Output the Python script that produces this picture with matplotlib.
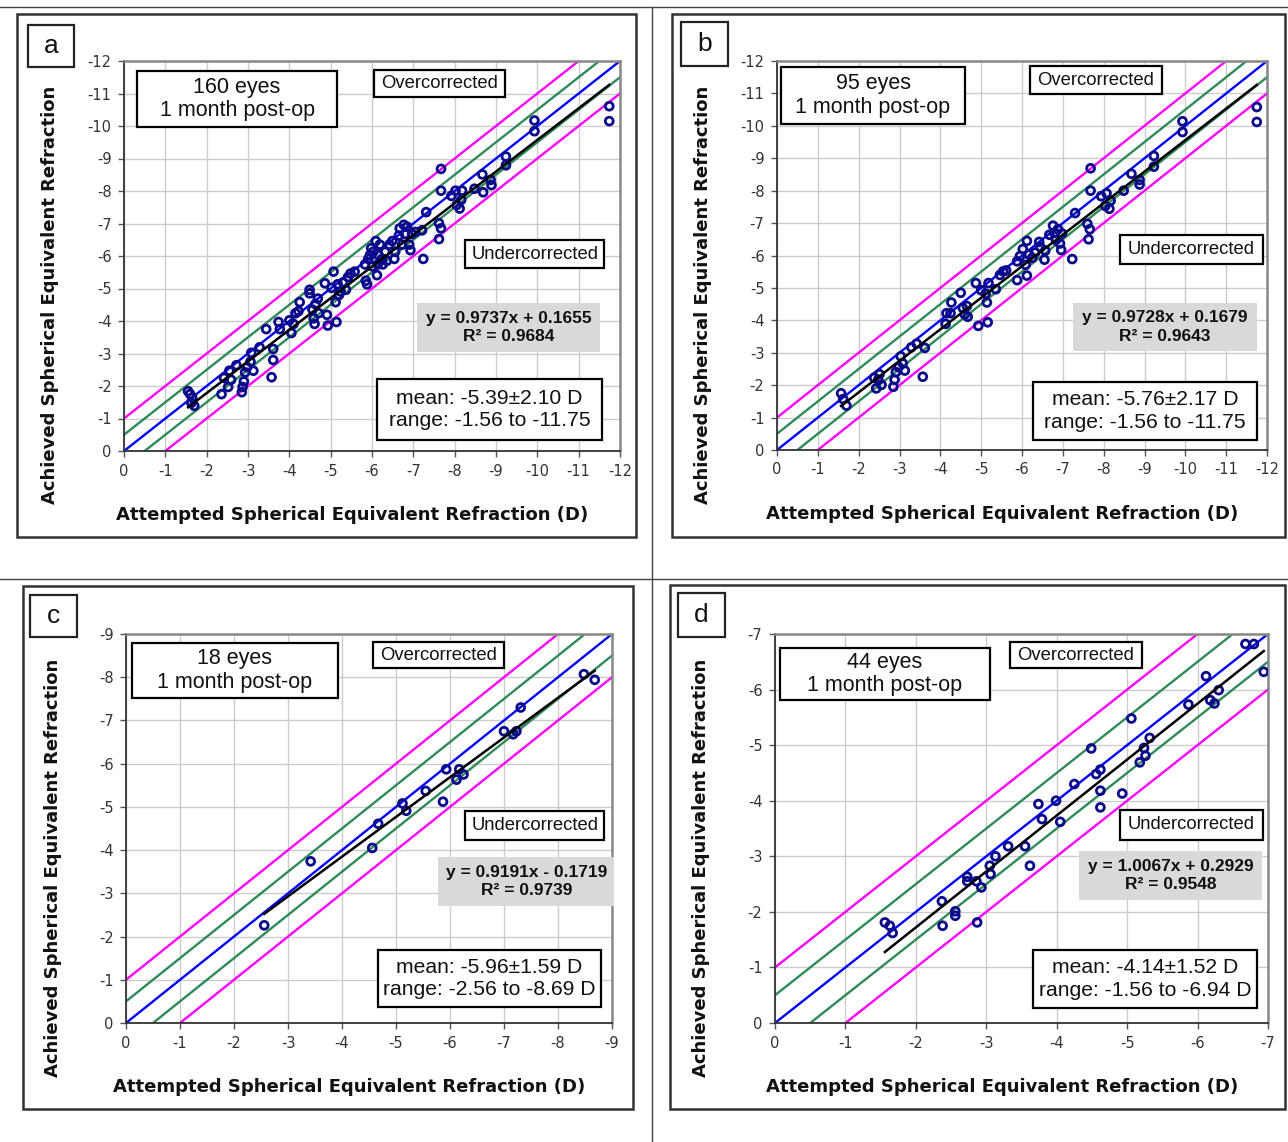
#!/usr/bin/env python3
"""Attempted vs achieved spherical equivalent refraction, four cohorts (a-d)."""

import matplotlib.pyplot as plt
from matplotlib.lines import Line2D
from matplotlib.patches import Rectangle

plt.rcParams["axes.unicode_minus"] = False

# ---- panel a: 160 eyes ----
a_attempted = [
    -1.55, -1.60, -1.65, -1.70, -1.63,
    -2.36, -2.42, -2.52, -2.55, -2.59, -2.72,
    -2.85, -2.87, -2.90, -2.93, -2.98, -3.06, -3.13, -3.08,
    -3.28, -3.44, -3.57, -3.61, -3.61, -3.74, -3.77,
    -4.00, -4.05, -4.10, -4.15, -4.25, -4.22,
    -4.49, -4.49, -4.56, -4.59, -4.61, -4.63, -4.69, -4.71,
    -4.86, -4.91, -4.93, -5.07, -5.02, -5.12, -5.14, -5.17, -5.20, -5.24,
    -5.30, -5.37, -5.42, -5.48, -5.58,
    -5.83, -5.85, -5.88, -5.91, -5.95, -5.98, -6.01, -6.03, -6.09, -6.12,
    -6.14, -6.16, -6.19, -6.24, -6.26, -6.32, -6.36, -6.42, -6.49, -6.54, -6.56,
    -6.65, -6.67, -6.73, -6.77, -6.80, -6.85, -6.90, -6.93, -6.97, -7.05,
    -7.21, -7.24, -7.31,
    -7.62, -7.62, -7.67, -7.67, -7.67,
    -7.92, -8.02, -8.05, -8.12, -8.16, -8.18,
    -8.48, -8.67, -8.69, -8.89, -8.87,
    -9.24, -9.24, -9.93, -9.93, -11.74, -11.74,
]
a_achieved = [
    -1.84, -1.75, -1.64, -1.39, -1.48,
    -1.75, -2.25, -1.97, -2.47, -2.19, -2.64,
    -1.81, -1.97, -2.14, -2.42, -2.58, -2.75, -2.47, -3.02,
    -3.19, -3.75, -2.27, -2.80, -3.14, -3.97, -3.75,
    -4.02, -3.63, -3.91, -4.24, -4.58, -4.30,
    -4.96, -4.85, -4.35, -4.08, -3.91, -4.52, -4.69, -4.24,
    -5.16, -4.19, -3.86, -5.52, -5.02, -4.58, -3.97, -5.13, -4.80, -4.91,
    -5.19, -4.96, -5.35, -5.46, -5.52,
    -5.74, -5.24, -5.13, -5.91, -6.02, -6.24, -5.68, -6.13, -6.46, -5.41,
    -5.74, -6.02, -6.35, -5.91, -5.74, -6.13, -5.85, -6.35, -6.46, -5.91, -6.13,
    -6.63, -6.85, -6.35, -6.96, -6.68, -6.90, -6.35, -6.18, -6.68, -6.74,
    -6.79, -5.91, -7.35,
    -7.01, -6.52, -6.85, -8.68, -8.01,
    -7.85, -8.01, -7.57, -7.46, -7.73, -8.01,
    -8.07, -8.51, -7.96, -8.18, -8.34,
    -9.06, -8.79, -10.17, -9.84, -10.61, -10.15,
]

# ---- panel b: 95 eyes ----
b_attempted = [
    -1.57, -1.62, -1.70,
    -2.38, -2.43, -2.51, -2.56, -2.48,
    -2.85, -2.88, -2.91, -2.98, -3.03, -3.08, -3.13,
    -3.29, -3.42, -3.57, -3.62,
    -4.13, -4.15, -4.25, -4.27, -4.50, -4.55, -4.60, -4.65, -4.67,
    -4.87, -4.93, -5.00, -5.11, -5.14, -5.16, -5.18, -5.36, -5.46, -5.54, -5.61,
    -5.88, -5.88, -5.95, -6.02, -6.09, -6.12, -6.12, -6.17, -6.25, -6.32,
    -6.42, -6.45, -6.55, -6.57,
    -6.67, -6.76, -6.79, -6.83, -6.88, -6.93, -6.96, -6.98,
    -7.23, -7.30,
    -7.60, -7.63, -7.66, -7.68, -7.68,
    -7.94, -8.04, -8.07, -8.14, -8.17,
    -8.49, -8.68, -8.88, -8.88,
    -9.23, -9.23, -9.93, -9.93, -11.75, -11.75,
]
b_achieved = [
    -1.75, -1.57, -1.37,
    -2.23, -1.90, -2.34, -2.01, -2.17,
    -1.95, -2.17, -2.40, -2.56, -2.89, -2.67, -2.45,
    -3.17, -3.28, -2.26, -3.15,
    -3.89, -4.22, -4.22, -4.55, -4.85, -4.38, -4.18, -4.44, -4.11,
    -5.15, -3.83, -4.93, -4.82, -4.55, -3.94, -5.15, -4.96, -5.40, -5.51, -5.54,
    -5.24, -5.82, -5.98, -6.20, -5.71, -6.45, -5.38, -6.03, -5.93, -6.09,
    -6.42, -6.26, -5.87, -6.15,
    -6.64, -6.92, -6.70, -6.48, -6.81, -6.37, -6.17, -6.68,
    -5.89, -7.31,
    -6.98, -6.50, -6.81, -8.69, -8.00,
    -7.83, -7.53, -7.92, -7.44, -7.69,
    -8.00, -8.52, -8.33, -8.19,
    -9.07, -8.74, -10.14, -9.81, -10.58, -10.12,
]

# ---- panel c: 18 eyes ----
c_attempted = [-2.56, -3.42, -4.56, -4.67, -5.12, -5.19, -5.55, -5.87, -5.93,
               -6.12, -6.17, -6.25, -7.00, -7.17, -7.23, -7.31, -8.48, -8.68]
c_achieved = [-2.26, -3.74, -4.05, -4.61, -5.08, -4.91, -5.37, -5.12, -5.87,
              -5.63, -5.87, -5.75, -6.75, -6.68, -6.75, -7.30, -8.07, -7.94]

# ---- panel d: 44 eyes ----
d_attempted = [
    -1.56, -1.63, -1.67,
    -2.37, -2.38, -2.56, -2.56,
    -2.73, -2.73, -2.86, -2.87, -2.93, -3.05, -3.06, -3.13,
    -3.31, -3.55, -3.62, -3.74, -3.79, -3.99, -4.05,
    -4.25, -4.49, -4.56, -4.62, -4.62, -4.62, -4.93,
    -5.06, -5.18, -5.24, -5.26, -5.32,
    -5.87, -6.12, -6.18, -6.24, -6.30,
    -6.68, -6.80, -6.94,
]
d_achieved = [
    -1.81, -1.75, -1.62,
    -2.19, -1.75, -2.01, -1.93,
    -2.63, -2.55, -2.55, -1.81, -2.44, -2.83, -2.68, -3.00,
    -3.18, -3.18, -2.83, -3.94, -3.67, -4.00, -3.62,
    -4.30, -4.94, -4.48, -4.56, -4.18, -3.88, -4.13,
    -5.48, -4.69, -4.95, -4.81, -5.13,
    -5.73, -6.24, -5.81, -5.75, -5.99,
    -6.82, -6.82, -6.32,
]

panel_letters = ["a", "b", "c", "d"]
eye_counts = [160, 95, 18, 44]
axis_limits = [-12, -12, -9, -7]
fit_slopes = [0.9737, 0.9728, 0.9191, 1.0067]
fit_intercepts = [0.1655, 0.1679, -0.1719, 0.2929]
fit_r2 = [0.9684, 0.9643, 0.9739, 0.9548]
mean_texts = ["mean: -5.39±2.10 D", "mean: -5.76±2.17 D", "mean: -5.96±1.59 D", "mean: -4.14±1.52 D"]
range_texts = ["range: -1.56 to -11.75", "range: -1.56 to -11.75",
               "range: -2.56 to -8.69 D", "range: -1.56 to -6.94 D"]

W, H = 1288, 1142

# layout in reference pixels
AXES_PX = [(124, 61, 620, 451), (777, 61, 1267, 450), (126, 634, 612, 1023), (775, 634, 1268, 1023)]
FRAME_PX = [(17, 14, 636, 537), (672, 14, 1285, 537), (23, 586, 633, 1109), (670, 585, 1285, 1109)]
LETTER_PX = [(28, 25, 74, 67), (681, 22, 728, 66), (30, 595, 77, 637), (678, 593, 725, 637)]
# boxes in axes fractions: (x0, y0, x1, y1)
EYES_BOX = [(0.026, 0.83, 0.43, 0.974), (0.008, 0.838, 0.384, 0.985),
            (0.012, 0.835, 0.436, 0.977), (0.010, 0.830, 0.436, 0.964)]
OVER_BOX = [(0.504, 0.908, 0.768, 0.977), (0.516, 0.915, 0.786, 0.987),
            (0.508, 0.913, 0.777, 0.979), (0.477, 0.913, 0.744, 0.979)]
UNDER_BOX = [(0.688, 0.469, 0.968, 0.541), (0.70, 0.478, 0.992, 0.553),
             (0.698, 0.470, 0.984, 0.545), (0.70, 0.470, 0.99, 0.548)]
EQ_BOX = [(0.591, 0.254, 0.96, 0.379), (0.604, 0.254, 0.98, 0.378),
          (0.642, 0.30, 1.005, 0.427), (0.617, 0.316, 0.988, 0.442)]
MEAN_BOX = [(0.51, 0.028, 0.964, 0.185), (0.522, 0.026, 0.98, 0.175),
            (0.518, 0.041, 0.977, 0.188), (0.523, 0.039, 0.978, 0.188)]

SANS = "Liberation Sans"
TICK_FONT = "DejaVu Sans"


def fig_rect(px):
    x0, y0, x1, y1 = px
    return (x0 / W, 1 - y1 / H, (x1 - x0) / W, (y1 - y0) / H)


def boxed_text(ax, box, text, size, weight="normal", face="white", edge="black", lw=1.6, spacing=1.1):
    x0, y0, x1, y1 = box
    ax.add_patch(Rectangle((x0, y0), x1 - x0, y1 - y0, transform=ax.transAxes,
                           facecolor=face, edgecolor=edge, linewidth=lw, zorder=5, clip_on=False))
    ax.text((x0 + x1) / 2, (y0 + y1) / 2, text, transform=ax.transAxes, ha="center", va="center",
            fontsize=size, fontweight=weight, family=SANS, color="#111111", zorder=6,
            linespacing=spacing)


def draw_panel(fig, i, attempted, achieved):
    lim = axis_limits[i]
    ax = fig.add_axes(fig_rect(AXES_PX[i]))

    # outer frame and panel letter
    x, y, w, h = fig_rect(FRAME_PX[i])
    fig.add_artist(Rectangle((x, y), w, h, transform=fig.transFigure, facecolor="none",
                             edgecolor="#333333", linewidth=1.8))
    x, y, w, h = fig_rect(LETTER_PX[i])
    fig.add_artist(Rectangle((x, y), w, h, transform=fig.transFigure, facecolor="white",
                             edgecolor="#222222", linewidth=1.6))
    fig.text(x + w / 2, y + h / 2, panel_letters[i], ha="center", va="center",
             fontsize=19, family=SANS, color="#111111")

    # reference lines: ±1 D magenta, ±0.5 D green, perfect blue
    for off, col in [(-1.0, "#ff00ff"), (1.0, "#ff00ff"), (-0.5, "#2e8b57"), (0.5, "#2e8b57"), (0.0, "#0000ff")]:
        ax.axline((0, off), slope=1, color=col, linewidth=1.7, zorder=2)

    ax.scatter(attempted, achieved, s=32, facecolors="none", edgecolors="#0a0a8a",
               linewidths=2.0, zorder=3)

    # linear fit line over data range
    xs = [max(attempted), min(attempted)]
    ys = [fit_slopes[i] * v + fit_intercepts[i] for v in xs]
    ax.plot(xs, ys, color="black", linewidth=1.8, zorder=4)

    ax.set_xlim(0, lim)
    ax.set_ylim(0, lim)
    ticks = list(range(0, lim - 1, -1))
    ax.set_xticks(ticks)
    ax.set_yticks(ticks)
    ax.grid(True, color="#cccccc", linewidth=1.0)
    ax.set_axisbelow(True)
    ax.tick_params(length=4, width=1, color="#555555", labelsize=10.5, labelcolor="#333333", pad=5)
    for lab in ax.get_xticklabels() + ax.get_yticklabels():
        lab.set_family(TICK_FONT)
    for side in ("left", "bottom"):
        ax.spines[side].set_color("#333333")
        ax.spines[side].set_linewidth(1.3)
    for side in ("top", "right"):
        ax.spines[side].set_color("#888888")
        ax.spines[side].set_linewidth(1.8)

    ax.set_xlabel("Attempted Spherical Equivalent Refraction (D)", fontsize=13,
                  fontweight="bold", family=TICK_FONT, color="#111111")
    ax.set_ylabel("Achieved Spherical Equivalent Refraction", fontsize=13,
                  fontweight="bold", family=TICK_FONT, color="#111111")
    ax.xaxis.set_label_coords(0.46, -0.165)
    ax.xaxis.label.set_va("center")
    ax.yaxis.set_label_coords(-0.15, 0.40)
    ax.yaxis.label.set_va("center")

    boxed_text(ax, EYES_BOX[i], f"{eye_counts[i]} eyes\n1 month post-op", 15.5, spacing=1.15)
    boxed_text(ax, OVER_BOX[i], "Overcorrected", 13.3)
    boxed_text(ax, UNDER_BOX[i], "Undercorrected", 13.3)
    sign = "+" if fit_intercepts[i] >= 0 else "-"
    eq = f"y = {fit_slopes[i]:.4f}x {sign} {abs(fit_intercepts[i]):.4f}\nR² = {fit_r2[i]:.4f}"
    boxed_text(ax, EQ_BOX[i], eq, 12.5, weight="bold", face="#d9d9d9", edge="none", lw=0, spacing=1.3)
    boxed_text(ax, MEAN_BOX[i], f"{mean_texts[i]}\n{range_texts[i]}", 15.2, spacing=1.25)
    return ax


def main() -> None:
    fig = plt.figure(figsize=(W / 100, H / 100), dpi=100)
    fig.patch.set_facecolor("white")

    # separator lines of the figure grid
    for (x0, y0, x1, y1) in [(0, 7, W, 7), (0, 579, W, 579), (652, 7, 652, H)]:
        fig.add_artist(Line2D([x0 / W, x1 / W], [1 - y0 / H, 1 - y1 / H], transform=fig.transFigure,
                              color="#444444", linewidth=1.0))

    data = [(a_attempted, a_achieved), (b_attempted, b_achieved),
            (c_attempted, c_achieved), (d_attempted, d_achieved)]
    for i, (att, ach) in enumerate(data):
        draw_panel(fig, i, att, ach)

    fig.savefig("out.png", dpi=100)
    plt.close(fig)


if __name__ == "__main__":
    main()
